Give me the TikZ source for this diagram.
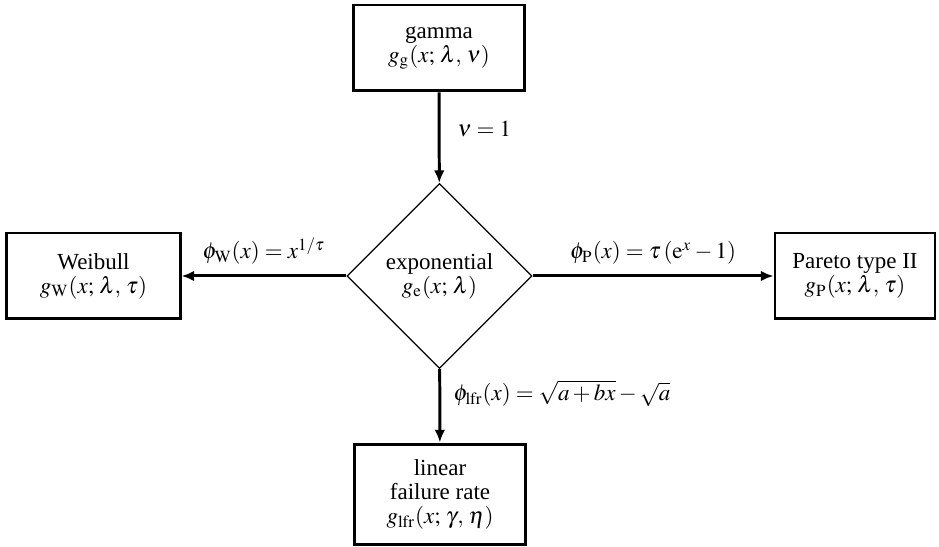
\documentclass[tikz,border=0pt]{standalone}
\usepackage{mathptmx}
\usepackage[no-math]{fontspec}
\setmainfont{Liberation Serif}
\usepackage{tikz}
\usetikzlibrary{arrows.meta, shapes.geometric}

\begin{document}
\begin{tikzpicture}[x=0.435pt, y=-0.435pt,
    distbox/.style={draw, line width=1.3pt, align=center, inner sep=0pt,
        minimum height=37.4pt, font=\fontsize{10}{10.5}\selectfont},
    special/.style={draw, diamond, aspect=1, line width=0.6pt, align=center,
        inner sep=0pt, minimum width=80.5pt, minimum height=80.5pt,
        font=\fontsize{10}{10.5}\selectfont},
    link/.style={line width=1.3pt, -{Latex[length=5.5pt, width=4.6pt]}}]
        \useasboundingbox (0,0) rectangle (939,547);
        % distributions
        \node[distbox, minimum width=74.8pt] (gam) at (439,48) {gamma\\ $g_{\mathrm{g}}(x;\,\lambda,\,\nu)$};
        \node[special] (expo) at (439.5,276) {exponential\\ $g_{\mathrm{e}}(x;\,\lambda)$};
        \node[distbox, minimum width=75.3pt] (weib) at (93.5,276) {Weibull\\ $g_{\mathrm{W}}(x;\,\lambda,\,\tau)$};
        \node[distbox, minimum width=69.6pt] (par) at (855,276) {Pareto type II\\ $g_{\mathrm{P}}(x;\,\lambda,\,\tau)$};
        \node[distbox, minimum width=74pt, minimum height=43.9pt] (lfr) at (440,494.5) {linear\\ failure rate\\ $g_{\mathrm{lfr}}(x;\,\gamma,\,\eta)$};
        % transformations
        \draw[link] (gam) -- (expo) node[pos=0.4, right=4pt] {$\nu=1$};
        \draw[link] (expo) -- (weib) node[midway, above=1pt] {$\phi_{\mathrm{W}}(x)=x^{1/\tau}$};
        \draw[link] (expo) -- (par) node[midway, above=1pt] {$\phi_{\mathrm{P}}(x)=\tau\,(\mathrm{e}^{x}-1)$};
        \draw[link] (expo) -- (lfr) node[pos=0.33, right=2pt] {$\phi_{\mathrm{lfr}}(x)=\sqrt{a+bx}-\sqrt{a}$};
    \end{tikzpicture}
\end{document}
